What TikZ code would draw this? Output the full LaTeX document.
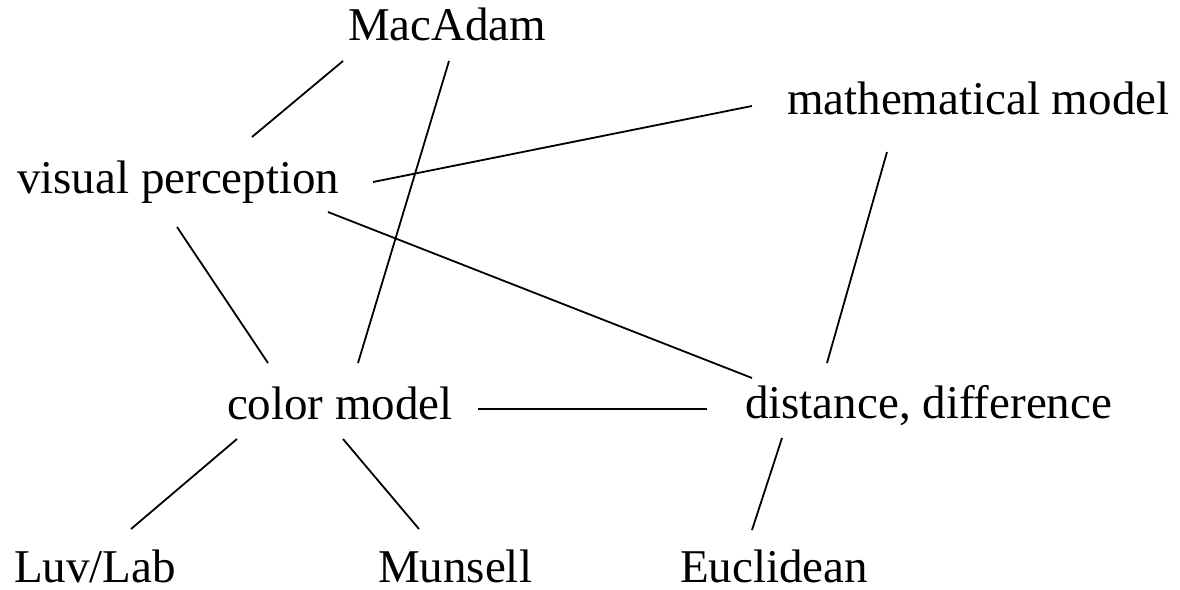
\documentclass[tikz,border=0pt]{standalone}
\usepackage{fontspec}
\setmainfont{Liberation Serif}
\begin{document}
\begin{tikzpicture}[x=1pt,y=-1pt,
  lbl/.style={inner sep=0pt, outer sep=0pt, anchor=base west, font=\fontsize{47}{56}\selectfont},
  link/.style={line width=1.8pt, black}]
\useasboundingbox (0,0) rectangle (1180,589);
\node[lbl] (mac)  at (348,40)  {MacAdam};
\node[lbl] (math) at (787,114) {mathematical model};
\node[lbl] (vis)  at (17,193)  {visual perception};
\node[lbl] (col)  at (227,419) {color model};
\node[lbl] (dist) at (745,418) {distance, difference};
\node[lbl] (luv)  at (14,582)  {Luv/Lab};
\node[lbl] (mun)  at (378,582) {Munsell};
\node[lbl] (euc)  at (680,582) {Euclidean};
\draw[link] ([shift={(-5,21)}]mac.base west) -- ([shift={(235,-56)}]vis.base west);
\draw[link] ([shift={(101,21)}]mac.base west) -- ([shift={(131,-56)}]col.base west);
\draw[link] ([shift={(356,-11)}]vis.base west) -- ([shift={(-35,-8)}]math.base west);
\draw[link] ([shift={(311,19)}]vis.base west) -- ([shift={(7,-40)}]dist.base west);
\draw[link] ([shift={(160,34)}]vis.base west) -- ([shift={(41,-56)}]col.base west);
\draw[link] ([shift={(100,38)}]math.base west) -- ([shift={(82,-55)}]dist.base west);
\draw[link] ([shift={(251,-10)}]col.base west) -- ([shift={(-38,-9)}]dist.base west);
\draw[link] ([shift={(10,20)}]col.base west) -- ([shift={(117,-53)}]luv.base west);
\draw[link] ([shift={(116,20)}]col.base west) -- ([shift={(41,-53)}]mun.base west);
\draw[link] ([shift={(37,20)}]dist.base west) -- ([shift={(72,-52)}]euc.base west);
\end{tikzpicture}
\end{document}
